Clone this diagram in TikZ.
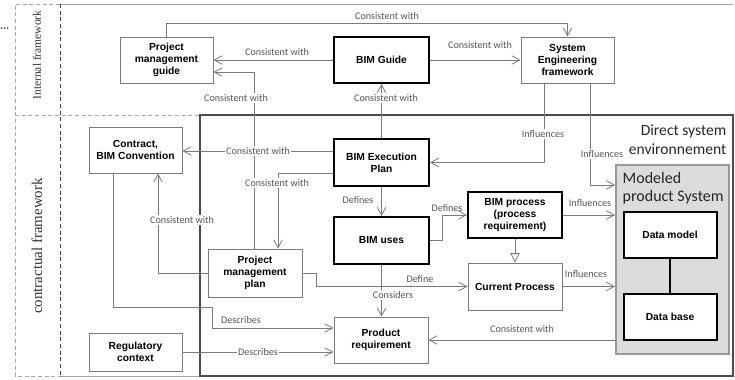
\documentclass[tikz,border=0pt]{standalone}
\usepackage{fontspec}
\setmainfont{Liberation Sans}
\newfontfamily\lblfont{Carlito}
\newfontfamily\timesfont{Liberation Serif}
\usetikzlibrary{arrows.meta}
\definecolor{lncol}{HTML}{7A7A7A}
\definecolor{txtcol}{HTML}{555555}
\definecolor{mpsfill}{HTML}{DCDCDC}
\definecolor{dotblue}{HTML}{2E5FA0}
\begin{document}
\begin{tikzpicture}[x=0.75pt,y=-0.75pt,
  nodetext/.style={font=\fontsize{7.7}{9.2}\selectfont\bfseries, align=center, text=black},
  thinbox/.style={nodetext, draw=lncol, line width=0.7pt, fill=white, minimum width=69.75pt, minimum height=34.5pt, inner sep=1pt},
  thickbox/.style={thinbox, draw=black, line width=1.5pt},
  conn/.style={draw=lncol, line width=0.6pt},
  arr/.style={conn, -{Straight Barb[length=6pt,width=6.5pt,line width=0.6pt]}},
  tri/.style={conn, -{Triangle[open,length=7pt,width=7pt,fill=white,line width=0.6pt]}},
  lab/.style={font=\lblfont\fontsize{7.6}{9}\selectfont, text=txtcol, inner sep=1pt},
  labw/.style={lab, fill=white},
  dashln/.style={draw=gray!70, line width=0.7pt, dash pattern=on 3pt off 2pt},
  dashdk/.style={draw=black!75, line width=0.7pt, dash pattern=on 3pt off 2pt}
]
\useasboundingbox (0,0) rectangle (735,379);

% blue dots
\foreach \dx in {1.5,4.5,7.5} \fill[dotblue] (\dx,28) circle (1);

% frames
\draw[draw=gray!70, line width=0.7pt] (60,4) -- (733,4);
\draw[dashln] (60,4) -- (15,4) -- (15,376) -- (60,376);
\draw[dashln] (15,115) -- (200,115);
\draw[dashdk] (60,4) -- (60,376);
\draw[draw=gray!70, line width=0.7pt] (60,376) -- (200,376);
\draw[draw=black!70, line width=0.8pt] (200,115) rectangle (733,376);

\node[font=\timesfont\fontsize{8.6}{10}\selectfont, rotate=90, text=black!80] (ifw) at (37,55) {Internal framework};
\node[font=\timesfont\fontsize{11.2}{13}\selectfont, rotate=90, text=black!80] (cfw) at (37,246) {contractual framework};

\node[font=\lblfont\fontsize{11.7}{14}\selectfont, align=right, anchor=east, text=black!85] (dse) at (731,140) {Direct system\\environnement};

% modeled product system
\node[draw=gray!80, line width=1.2pt, fill=mpsfill, minimum width=84.75pt, minimum height=141.75pt, anchor=north west, inner sep=0pt] (mps) at (615,164) {};
\node[font=\lblfont\fontsize{12}{13.5}\selectfont, align=left, anchor=west, text=black!85] (mpst) at (618,188) {Modeled\\product System};
\node[thickbox] (dm) at (670,235) {Data model};
\node[thickbox] (db) at (670,316.5) {Data base};
\draw[draw=black, line width=1.5pt] (dm.south) -- (db.north);

% nodes
\node[thinbox] (pmg) at (166.5,60) {Project\\management\\guide};
\node[thickbox, minimum width=71.25pt] (bg) at (381.5,60) {BIM Guide};
\node[thinbox] (se) at (567.5,60) {System\\Engineering\\framework};
\node[thinbox] (con) at (135.5,150) {Contract,\\BIM Convention};
\node[thickbox, minimum width=71.25pt, minimum height=35.25pt] (bep) at (381.5,162.5) {BIM Execution\\Plan};
\node[thickbox, minimum width=71.25pt, minimum height=35.25pt] (bu) at (381.5,240.5) {BIM uses};
\node[thickbox, minimum width=70.5pt] (bp) at (515,215) {BIM process\\(process\\requirement)};
\node[thinbox, minimum width=70.5pt, minimum height=35.25pt] (cp) at (515,286.5) {Current Process};
\node[thinbox, minimum width=70.5pt, minimum height=36pt] (pmp) at (255,273) {Project\\management\\plan};
\node[thinbox, minimum width=70.5pt] (pr) at (381,340) {Product\\requirement};
\node[thinbox, minimum height=28.5pt] (rc) at (135.5,352) {Regulatory\\context};

% connectors
\draw[arr] (pmg.north) -- (pmg.north |- 0,23) -| (se.north);
\node[lab] (l1) at (387,16) {Consistent with};

\draw[arr] (bg.west) -- (pmg.east);
\node[lab] (l2) at (277,52) {Consistent with};

\draw[arr] (pmp.north -| 254,0) -- (254,72) -- (pmg.east |- 0,72);
\node[labw] (l3) at (236,98) {Consistent with};

\draw[arr] (bep.north) -- (bg.south);
\node[labw] (l4) at (386,98) {Consistent with};

\draw[arr] (bg.east) -- (se.west);
\node[lab] (l5) at (480,45) {Consistent with};

\draw[arr] (se.south -| 544,0) |- (bep.east);
\node[labw] (l6) at (543,134) {Influences};

\draw[arr] (se.south -| 590,0) |- (mps.west |- 0,185);
\node[labw] (l7) at (602,154) {Influences};

\draw[arr] (bep.west |- 0,151) -- (con.east |- 0,151);
\node[labw] (l8) at (258,151) {Consistent with};

\draw[arr] (bep.west |- 0,173) -| (pmp.north -| 278,0);
\node[labw] (l9) at (277,183) {Consistent with};

\draw[arr] (pmp.west) -| (con.south -| 158,0);
\node[labw] (l10) at (182,220) {Consistent with};

\draw[arr] (con.south -| 113,0) |- (212,307) |- (pr.west |- 0,328);
\node[lab] (l11) at (241,320) {Describes};

\draw[arr] (rc.east) -- (pr.west |- rc.east);
\node[labw] (l12) at (258,352) {Describes};

\draw[arr] (bep.south) -- (bu.north);
\node[lab] (l13) at (358,200) {Defines};

\draw[arr] (bu.east |- 0,240) -- (442,240) |- (bp.west);
\node[lab] (l14) at (447,208) {Defines};

\draw[tri] (bp.south) -- (cp.north);

\draw[arr] (bp.east) -- (mps.west |- bp.east);
\node[lab] (l15) at (590,203) {Influences};

\draw[arr] (cp.east) -- (mps.west |- cp.east);
\node[lab] (l16) at (586,274) {Influences};

\draw[arr] (pmp.east) -- (316,273) |- (cp.west);
\node[lab] (l17) at (420,279) {Define};

\draw[arr] (bu.south) -- (pr.north -| bu.south);
\node[labw] (l18) at (393,295) {Considers};

\draw[arr] (mps.west |- 0,340) -- (pr.east |- 0,340);
\node[lab] (l19) at (522,329) {Consistent with};

\end{tikzpicture}
\end{document}
